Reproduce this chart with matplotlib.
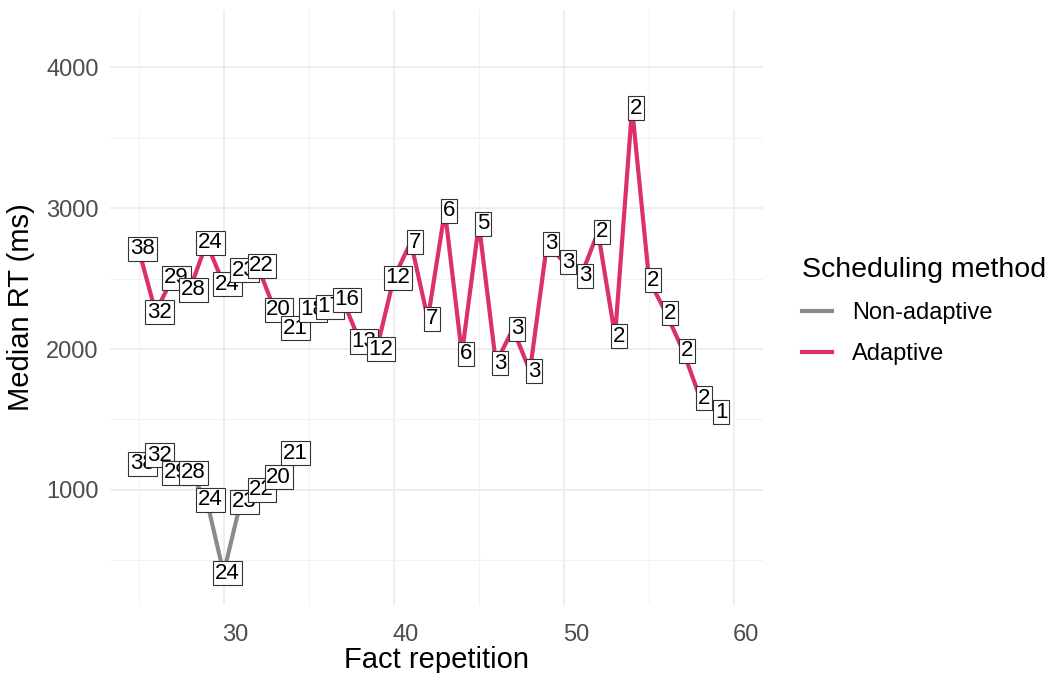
import matplotlib
matplotlib.use('Agg')
import matplotlib.pyplot as plt
import matplotlib.transforms as mtransforms
from matplotlib.lines import Line2D

plt.rcParams['font.family'] = ['Liberation Sans', 'DejaVu Sans']

# datos ------
rep_adaptive = list(range(25, 60))
rt_adaptive = [2710, 2262, 2504, 2420, 2752, 2460, 2560, 2589, 2277, 2149,
               2277, 2298, 2348, 2055, 2000, 2504, 2759, 2213, 2980, 1965,
               2887, 1900, 2142, 1844, 2745, 2617, 2518, 2830, 2092, 3709,
               2489, 2255, 1986, 1652, 1553]
n_adaptive = [38, 32, 29, 28, 24, 24, 23, 22, 20, 21,
              18, 17, 16, 13, 12, 12, 7, 7, 6, 6,
              5, 3, 3, 3, 3, 3, 3, 2, 2, 2,
              2, 2, 2, 2, 1]

rep_nonadaptive = list(range(25, 35))
rt_nonadaptive = [1185, 1248, 1121, 1121, 929, 411, 915, 1000, 1092, 1262]
n_nonadaptive = [38, 32, 29, 28, 24, 24, 23, 22, 20, 21]

col_adaptive = '#DB3069'
col_nonadaptive = '#8A8A8A'

fig = plt.figure(figsize=(10.54, 6.73), dpi=100)
ax = fig.add_axes([0.104, 0.101, 0.62, 0.884])

ax.plot(rep_nonadaptive, rt_nonadaptive, color=col_nonadaptive, lw=3, zorder=2)
ax.plot(rep_adaptive, rt_adaptive, color=col_adaptive, lw=3, zorder=2)

# las etiquetas quedan un poco a la derecha del punto, como en el original
corrido = mtransforms.ScaledTranslation(0.04, 0, fig.dpi_scale_trans)
caja = dict(boxstyle='square,pad=0.08', fc='white', ec='#333333', lw=0.8)
for x, y, n in zip(rep_nonadaptive, rt_nonadaptive, n_nonadaptive):
    ax.text(x, y, str(n), ha='center', va='center', fontsize=16, bbox=caja,
            zorder=3, transform=ax.transData + corrido)
for x, y, n in zip(rep_adaptive, rt_adaptive, n_adaptive):
    ax.text(x, y, str(n), ha='center', va='center', fontsize=16, bbox=caja,
            zorder=3, transform=ax.transData + corrido)

ax.set_xlim(23.3, 61.7)
ax.set_ylim(184, 4404)
ax.set_xticks([30, 40, 50, 60])
ax.set_xticks([25, 35, 45, 55], minor=True)
ax.set_yticks([1000, 2000, 3000, 4000])
ax.set_yticks([500, 1500, 2500, 3500], minor=True)
ax.grid(which='major', color='#EBEBEB', lw=1.2)
ax.grid(which='minor', color='#F2F2F2', lw=0.8)
ax.set_axisbelow(True)
for s in ax.spines.values():
    s.set_visible(False)
ax.tick_params(which='both', length=0, labelsize=17, labelcolor='#4D4D4D')
ax.tick_params(axis='x', pad=14)
ax.tick_params(axis='y', pad=8)

# las etiquetas del eje x van algo desplazadas a la derecha en el original
desplaza = mtransforms.ScaledTranslation(0.12, 0, fig.dpi_scale_trans)
for lab in ax.get_xticklabels():
    lab.set_transform(lab.get_transform() + desplaza)

ax.set_xlabel('Fact repetition', fontsize=21, labelpad=0)
ax.set_ylabel('Median RT (ms)', fontsize=21, labelpad=8)

handles = [Line2D([], [], color=col_nonadaptive, lw=3),
           Line2D([], [], color=col_adaptive, lw=3)]
leg = fig.legend(handles, ['Non-adaptive', 'Adaptive'], title='Scheduling method',
                 loc='upper left', bbox_to_anchor=(0.741, 0.649), frameon=False,
                 fontsize=17, title_fontsize=20.5, handlelength=1.27,
                 handletextpad=0.85, labelspacing=0.8)
leg._legend_box.align = 'left'

fig.savefig('out.png', dpi=100)
